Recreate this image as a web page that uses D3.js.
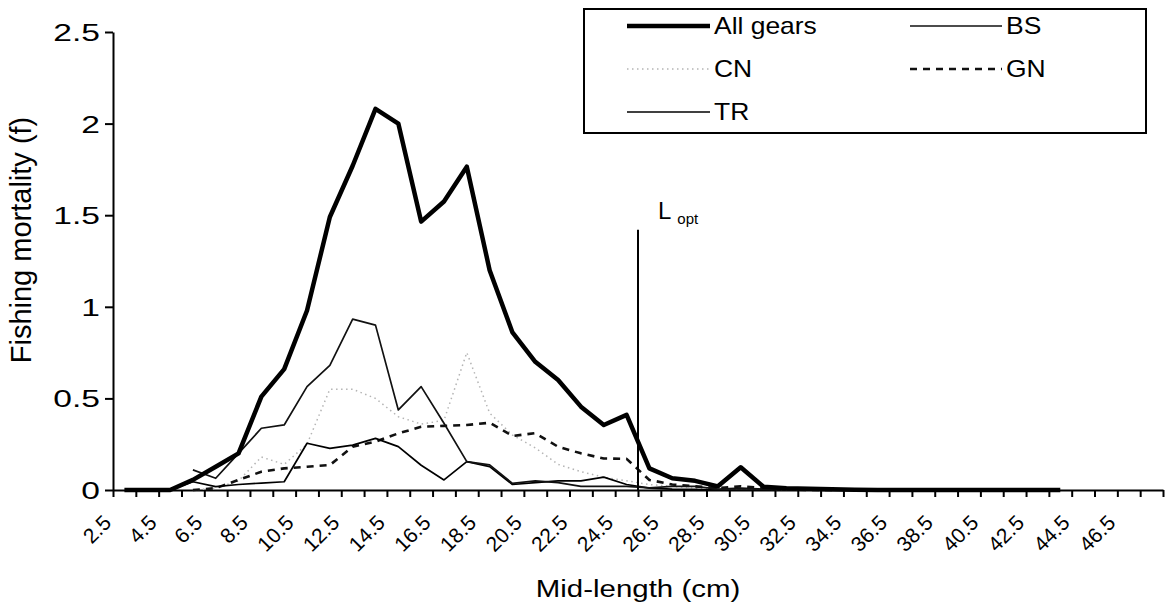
<!DOCTYPE html>
<html>
<head>
<meta charset="utf-8">
<script src="https://cdn.jsdelivr.net/npm/d3@7"></script>
<style>
  body { margin: 0; background: #fff; }
  svg { display: block; font-family: "Liberation Sans", Arial, sans-serif; }
  .axis path, .axis line { stroke: #000; stroke-width: 2; }
  .axis text { fill: #000; }
</style>
</head>
<body>
<div id="chart"></div>
<script>
// mid-length classes (cm)
const midLengths = [
  2.5, 3.5, 4.5, 5.5, 6.5, 7.5, 8.5, 9.5, 10.5, 11.5, 12.5, 13.5, 14.5, 15.5,
  16.5, 17.5, 18.5, 19.5, 20.5, 21.5, 22.5, 23.5, 24.5, 25.5, 26.5, 27.5, 28.5,
  29.5, 30.5, 31.5, 32.5, 33.5, 34.5, 35.5, 36.5, 37.5, 38.5, 39.5, 40.5, 41.5,
  42.5, 43.5, 44.5, 45.5, 46.5, 47.5,
];
const tickLabels = [
  "2.5", "4.5", "6.5", "8.5", "10.5", "12.5", "14.5", "16.5", "18.5", "20.5",
  "22.5", "24.5", "26.5", "28.5", "30.5", "32.5", "34.5", "36.5", "38.5",
  "40.5", "42.5", "44.5", "46.5",
];
const yTicks = [0, 0.5, 1, 1.5, 2, 2.5];

// fishing mortality per gear (null = no point)
const allGears = [
  0, 0, 0, 0.055, 0.127, 0.2, 0.51, 0.66, 0.98, 1.49, 1.77, 2.08, 2.0, 1.465,
  1.575, 1.765, 1.2, 0.86, 0.7, 0.6, 0.455, 0.355, 0.41, 0.118, 0.064, 0.05,
  0.02, 0.124, 0.018, 0.01, 0.007, 0.004, 0.002, 0, 0, 0, 0, 0, 0, 0, 0, 0,
  null, null, null, null,
];
const bs = [
  null, null, null, 0.11, 0.064, 0.2, 0.337, 0.355, 0.564, 0.68, 0.933, 0.9,
  0.437, 0.564, 0.364, 0.155, 0.137, 0.036, 0.05, 0.04, 0.02, 0.02, 0.02,
  0.012, 0.02, 0.02, 0.005, 0.01, 0.005, 0.002, 0, 0, 0, 0, null, null, null,
  null, null, null, null, null, null, null, null, null,
];
const cn = [
  null, null, null, 0, 0.01, 0.05, 0.18, 0.14, 0.25, 0.55, 0.55, 0.5, 0.4,
  0.36, 0.38, 0.75, 0.42, 0.3, 0.23, 0.14, 0.1, 0.07, 0.05, 0.03, 0.02, 0.01,
  0.01, 0.005, 0.005, 0, 0, 0, null, null, null, null, null, null, null, null,
  null, null, null, null, null, null,
];
const gn = [
  null, null, null, 0, 0.01, 0.055, 0.1, 0.118, 0.127, 0.136, 0.236, 0.264,
  0.309, 0.345, 0.35, 0.355, 0.367, 0.295, 0.31, 0.236, 0.2, 0.172, 0.17,
  0.055, 0.03, 0.02, 0.01, 0.02, 0.01, 0.005, 0, 0, null, null, null, null,
  null, null, null, null, null, null, null, null, null, null,
];
const tr = [
  null, null, 0, 0.045, 0.018, 0.03, 0.038, 0.045, 0.255, 0.227, 0.245, 0.282,
  0.237, 0.135, 0.055, 0.155, 0.128, 0.03, 0.04, 0.05, 0.05, 0.07, 0.03, 0.01,
  0.005, 0.003, 0, 0, 0, 0, 0, null, null, null, null, null, null, null, null,
  null, null, null, null, null, null, null,
];
const seriesNames = ["All gears", "BS", "CN", "GN", "TR"];
const seriesValues = [allGears, bs, cn, gn, tr];

// optimum length marker
const lOpt = 25;
const lOptTop = 1.42;

const width = 1166;
const height = 609;
const margin = { top: 32, right: 3, bottom: 119, left: 113 };

const lineStyles = {
  "All gears": { stroke: "#000", width: 4.5, dash: null },
  BS: { stroke: "#111", width: 1.7, dash: null },
  CN: { stroke: "#b4b4b4", width: 1.5, dash: "1.5,3.5" },
  GN: { stroke: "#111", width: 2.6, dash: "7,6" },
  TR: { stroke: "#000", width: 1.7, dash: null },
};

const x = d3
  .scaleLinear()
  .domain([midLengths[0] - 0.5, midLengths[midLengths.length - 1] + 0.5])
  .range([margin.left, width - margin.right]);

const y = d3
  .scaleLinear()
  .domain([0, 2.5])
  .range([height - margin.bottom, margin.top]);

const svg = d3
  .select("#chart")
  .append("svg")
  .attr("width", width)
  .attr("height", height);

// x axis: ticks sit between categories, labels on every other class
const boundaries = midLengths
  .map((c) => c - 0.5)
  .concat(midLengths[midLengths.length - 1] + 0.5);

const gx = svg
  .append("g")
  .attr("class", "axis axis--x")
  .attr("transform", `translate(0,${y(0)})`)
  .call(
    d3.axisBottom(x).tickValues(boundaries).tickSize(7).tickSizeOuter(0).tickFormat("")
  );

svg
  .append("g")
  .attr("class", "x-labels")
  .selectAll("text")
  .data(tickLabels)
  .join("text")
  .attr("transform", (d) => `translate(${x(+d) - 12},${y(0) + 34}) rotate(-45)`)
  .attr("text-anchor", "end")
  .attr("font-size", 21)
  .text((d) => d);

// y axis
const gy = svg
  .append("g")
  .attr("class", "axis axis--y")
  .attr("transform", `translate(${margin.left},0)`)
  .call(
    d3.axisLeft(y).tickValues(yTicks).tickSize(8).tickSizeOuter(0).tickFormat((d) => d)
  )
  .attr("font-family", null)
  .attr("font-size", 24)
  .call((g) =>
    g
      .selectAll(".tick text")
      .attr("x", 0)
      .attr("dy", "0.35em")
      .attr("transform", "translate(-13,0) scale(1.4,1)")
  );

// series lines
const line = d3
  .line()
  .defined((d) => d != null)
  .x((d, i) => x(midLengths[i]))
  .y((d) => y(d));

const order = ["CN", "GN", "TR", "BS", "All gears"];
svg
  .append("g")
  .attr("class", "lines")
  .selectAll("path")
  .data(order)
  .join("path")
  .attr("fill", "none")
  .attr("stroke", (d) => lineStyles[d].stroke)
  .attr("stroke-width", (d) => lineStyles[d].width)
  .attr("stroke-dasharray", (d) => lineStyles[d].dash)
  .attr("stroke-linejoin", "round")
  .attr("d", (d) => line(seriesValues[seriesNames.indexOf(d)]));

// L opt marker
svg
  .append("line")
  .attr("x1", x(lOpt))
  .attr("x2", x(lOpt))
  .attr("y1", y(0))
  .attr("y2", y(lOptTop))
  .attr("stroke", "#000")
  .attr("stroke-width", 2);

svg
  .append("text")
  .attr("x", x(lOpt) + 20)
  .attr("y", y(lOptTop) - 11)
  .attr("font-size", 24)
  .text("L")
  .append("tspan")
  .attr("font-size", 15)
  .attr("dx", 6)
  .attr("dy", 5)
  .text("opt");

// axis titles
svg
  .append("text")
  .attr("transform", `translate(${x(25)},597) scale(1.28,1)`)
  .attr("text-anchor", "middle")
  .attr("font-size", 23)
  .text("Mid-length (cm)");

svg
  .append("text")
  .attr("transform", "translate(31,240) rotate(-90)")
  .attr("text-anchor", "middle")
  .attr("font-size", 29)
  .text("Fishing mortality (f)");

// legend, two columns
const legend = svg.append("g").attr("class", "legend");
legend
  .append("rect")
  .attr("x", 584)
  .attr("y", 9)
  .attr("width", 562)
  .attr("height", 124)
  .attr("fill", "#fff")
  .attr("stroke", "#000")
  .attr("stroke-width", 2);

const colX = [627, 910];
const sampleW = [83, 92];
const item = legend
  .selectAll(".legend__item")
  .data(seriesNames)
  .join("g")
  .attr("class", "legend__item")
  .attr(
    "transform",
    (d, i) => `translate(${colX[i % 2]},${34 + Math.floor(i / 2) * 43})`
  );

item
  .append("line")
  .attr("x1", 0)
  .attr("x2", (d, i) => sampleW[i % 2])
  .attr("y1", -8)
  .attr("y2", -8)
  .attr("stroke", (d) => lineStyles[d].stroke)
  .attr("stroke-width", (d) => lineStyles[d].width)
  .attr("stroke-dasharray", (d) => lineStyles[d].dash);

item
  .append("text")
  .attr("transform", (d, i) => `translate(${sampleW[i % 2] + 4},0) scale(1.15,1)`)
  .attr("font-size", 23)
  .text((d) => d);
</script>
</body>
</html>
